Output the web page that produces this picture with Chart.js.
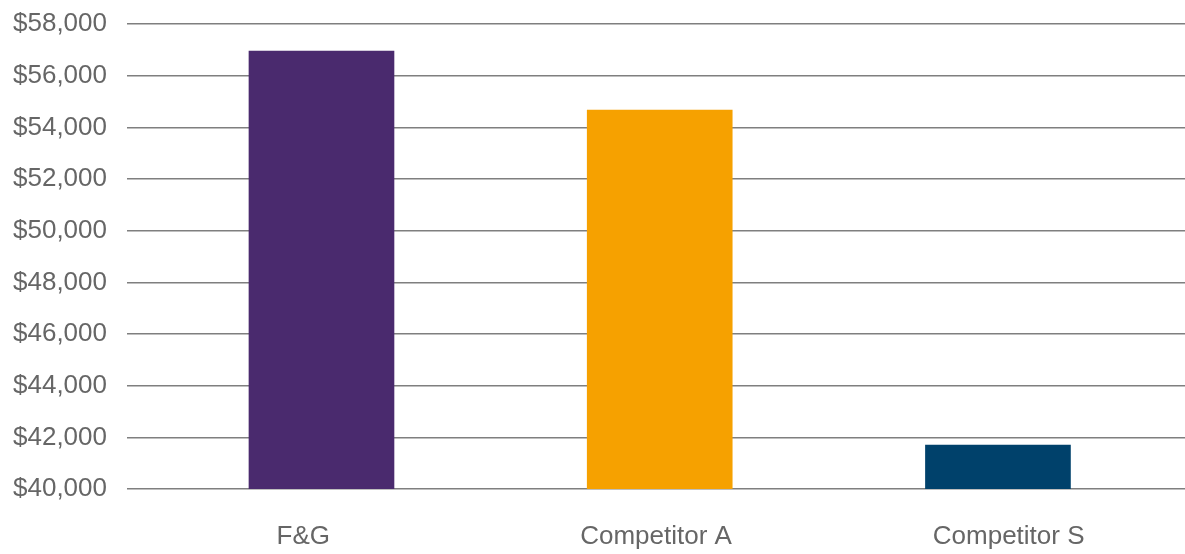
<!DOCTYPE html>
<html>
<head>
<meta charset="utf-8">
<script src="https://cdn.jsdelivr.net/npm/chart.js@4.4.0/dist/chart.umd.min.js"></script>
<style>
  html, body { margin: 0; padding: 0; background: #fff; }
  #wrap { width: 1185px; height: 554px; }
</style>
</head>
<body>
<div id="wrap"><canvas id="chart"></canvas></div>
<script>
// Salary comparison data
const categories = ['F&G', 'Competitor A', 'Competitor S'];
const salaries = [56950, 54670, 41700];
const barColors = ['#4a2a6e', '#f6a100', '#00416b'];
const yMin = 40000;
const yMax = 58000;
const yStep = 2000;

const labelFont = { family: 'Liberation Sans, Arial, sans-serif', size: 26 };

new Chart(document.getElementById('chart'), {
  type: 'bar',
  data: {
    labels: categories,
    datasets: [{
      // bars sit on their own hidden axis; the labels use the category axis
      xAxisID: 'xb',
      data: categories.map((c, i) => ({ x: i, y: salaries[i] })),
      backgroundColor: barColors,
      barThickness: 145
    }]
  },
  options: {
    responsive: true,
    maintainAspectRatio: false,
    animation: false,
    layout: { padding: { top: 24, right: 0, bottom: 0, left: 0 } },
    plugins: { legend: { display: false }, tooltip: { enabled: false } },
    scales: {
      x: {
        type: 'category',
        grid: { display: false, drawTicks: false },
        border: { display: false },
        afterFit(scale) { scale.height = 65; },
        ticks: { color: '#666', padding: 32, font: labelFont }
      },
      xb: {
        type: 'linear',
        display: false,
        offset: false,
        min: -0.575,
        max: 2.553
      },
      y: {
        min: yMin,
        max: yMax,
        grid: { color: '#7f7f7f', lineWidth: 1.5, drawTicks: false },
        border: { display: false },
        afterFit(scale) {
          scale.width = 127;
          scale.paddingTop = 0;
          scale.paddingBottom = 0;
        },
        ticks: {
          stepSize: yStep,
          color: '#666',
          padding: 20,
          font: labelFont,
          callback: v => '$' + v.toLocaleString('en-US')
        }
      }
    }
  }
});
</script>
</body>
</html>
